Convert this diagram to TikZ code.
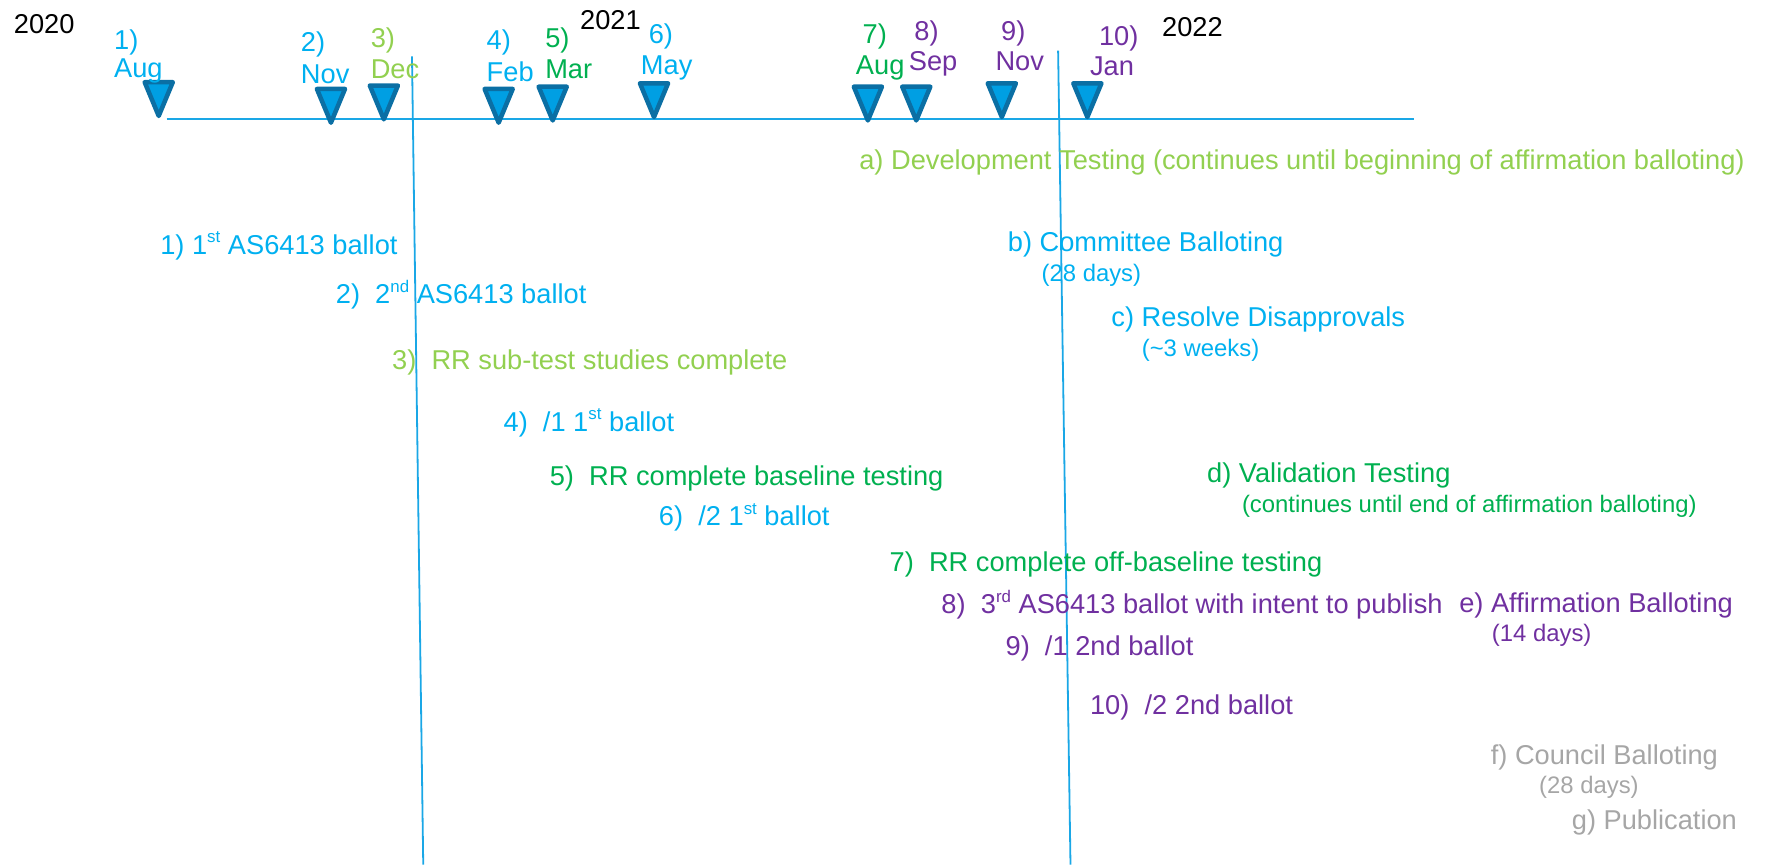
\documentclass[tikz,border=0pt]{standalone}
\usepackage{fontspec}
\setmainfont{Liberation Sans}
\definecolor{cyanT}{HTML}{00B0F0}
\definecolor{lgreenT}{HTML}{92D050}
\definecolor{greenT}{HTML}{00B050}
\definecolor{purpleT}{HTML}{7030A0}
\definecolor{grayT}{HTML}{A6A6A6}
\definecolor{axisT}{HTML}{1AA7E6}
\definecolor{markFill}{HTML}{009FE3}
\definecolor{markEdge}{HTML}{0B6FA4}
% small raised ordinal suffix
\newcommand{\ordsup}[1]{\raisebox{0.42em}{\fontsize{7.5}{8}\selectfont #1}}
\begin{document}
\begin{tikzpicture}[x=0.5pt,y=-0.5pt,
  lbl/.style={anchor=base west, inner sep=0pt, font=\fontsize{12.1}{14}\selectfont},
  sml/.style={anchor=base west, inner sep=0pt, font=\fontsize{10.6}{12}\selectfont},
  axis/.style={draw=axisT, line width=1pt},
  divider/.style={draw=axisT, line width=0.8pt},
  marker/.style={draw=markEdge, fill=markFill, line width=2pt, line join=round}]
\useasboundingbox (0,0) rectangle (1568,768);

% time axis
\coordinate (axL) at (148,106);
\coordinate (axR) at (1256,106);
\draw[axis] (axL) -- (axR);

% year dividers
\coordinate (d1t) at (366,50);
\coordinate (d1b) at (376,768);
\coordinate (d2t) at (940,45);
\coordinate (d2b) at (951,768);
\draw[divider] (d1t) -- (d1b);
\draw[divider] (d2t) -- (d2b);

% milestone markers (tip x, tip y)
\foreach \n/\x/\y in {1/141/103, 2/294/109, 3/341/106, 4/443/109, 5/491/107,
                      6/581/104, 7/771/107, 8/814/107, 9/890/104, 10/966/104}{
  \coordinate (m\n) at (\x,\y);
  \draw[marker] (m\n) -- ++(-12.5,-30) -- ++(25,0) -- cycle;
}

% years
\node[lbl] (y2020) at (12,30) {2020};
\node[lbl] (y2021) at (515,26) {2021};
\node[lbl] (y2022) at (1032,32) {2022};

% milestone numbers and months
\node[lbl, text=cyanT] (n1) at (101,44) {1)};
\node[lbl, text=cyanT] (mo1) at (101,69) {Aug};
\node[lbl, text=cyanT] (n2) at (267,46) {2)};
\node[lbl, text=cyanT] (mo2) at (267,74) {Nov};
\node[lbl, text=lgreenT] (n3) at (329,42) {3)};
\node[lbl, text=lgreenT] (mo3) at (329,70) {Dec};
\node[lbl, text=cyanT] (n4) at (432,44) {4)};
\node[lbl, text=cyanT] (mo4) at (432,72) {Feb};
\node[lbl, text=greenT] (n5) at (484,42) {5)};
\node[lbl, text=greenT] (mo5) at (484,70) {Mar};
\node[lbl, text=cyanT] (n6) at (576,39) {6)};
\node[lbl, text=cyanT] (mo6) at (569,66) {May};
\node[lbl, text=greenT] (n7) at (766,39) {7)};
\node[lbl, text=greenT] (mo7) at (760,66) {Aug};
\node[lbl, text=purpleT] (n8) at (812,36) {8)};
\node[lbl, text=purpleT] (mo8) at (807,63) {Sep};
\node[lbl, text=purpleT] (n9) at (889,36) {9)};
\node[lbl, text=purpleT] (mo9) at (884,63) {Nov};
\node[lbl, text=purpleT] (n10) at (976,40) {10)};
\node[lbl, text=purpleT] (mo10) at (968,67) {Jan};

% milestone descriptions
\node[lbl, text=cyanT] (e1) at (142,226) {1) 1\ordsup{st} AS6413 ballot};
\node[lbl, text=cyanT] (e2) at (298,270) {2)\ \ 2\ordsup{nd} AS6413 ballot};
\node[lbl, text=lgreenT] (e3) at (348,328) {3)\ \ RR sub-test studies complete};
\node[lbl, text=cyanT] (e4) at (447,383) {4)\ \ /1 1\ordsup{st} ballot};
\node[lbl, text=greenT] (e5) at (488,431) {5)\ \ RR complete baseline testing};
\node[lbl, text=cyanT] (e6) at (585,467) {6)\ \ /2 1\ordsup{st} ballot};
\node[lbl, text=greenT] (e7) at (790,508) {7)\ \ RR complete off-baseline testing};
\node[lbl, text=purpleT] (e8) at (836,545) {8)\ \ 3\ordsup{rd} AS6413 ballot with intent to publish};
\node[lbl, text=purpleT] (e9) at (893,582) {9)\ \ /1 2nd ballot};
\node[lbl, text=purpleT] (e10) at (968,635) {10)\ \ /2 2nd ballot};

% process phases
\node[lbl, text=lgreenT] (pa) at (763,151) {a) Development Testing (continues until beginning of affirmation balloting)};
\node[lbl, text=cyanT] (pb) at (895,223) {b) Committee Balloting};
\node[sml, text=cyanT] (pb2) at (925,250) {(28 days)};
\node[lbl, text=cyanT] (pc) at (987,290) {c) Resolve Disapprovals};
\node[sml, text=cyanT] (pc2) at (1014,317) {(\textasciitilde 3 weeks)};
\node[lbl, text=greenT] (pd) at (1072,429) {d) Validation Testing};
\node[sml, text=greenT] (pd2) at (1103,455) {(continues until end of affirmation balloting)};
\node[lbl, text=purpleT] (pe) at (1296,544) {e) Affirmation Balloting};
\node[sml, text=purpleT] (pe2) at (1325,570) {(14 days)};
\node[lbl, text=grayT] (pf) at (1324,679) {f) Council Balloting};
\node[sml, text=grayT] (pf2) at (1367,705) {(28 days)};
\node[lbl, text=grayT] (pg) at (1396,737) {g) Publication};
\end{tikzpicture}
\end{document}
